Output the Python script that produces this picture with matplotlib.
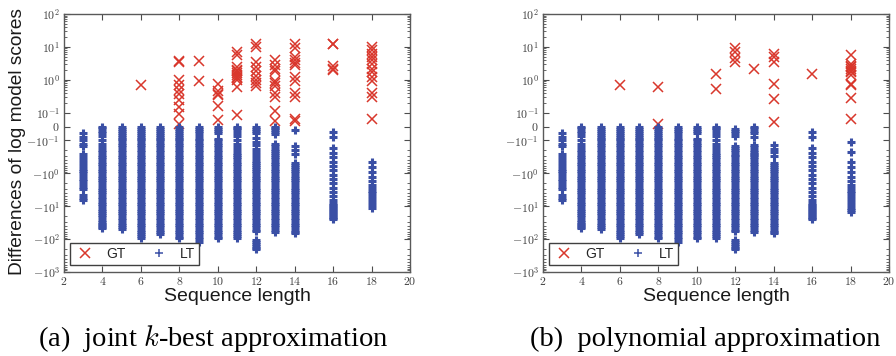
import numpy as np
import matplotlib
matplotlib.use('Agg')
import matplotlib.pyplot as plt
from matplotlib.ticker import FixedLocator, SymmetricalLogLocator, NullFormatter

plt.rcParams['mathtext.fontset'] = 'cm'
plt.rcParams['font.family'] = ['Liberation Sans', 'DejaVu Sans']

# ticks
xticks = [2, 4, 6, 8, 10, 12, 14, 16, 18, 20]
xtick_labels = ['$2$', '$4$', '$6$', '$8$', '$10$', '$12$', '$14$', '$16$', '$18$', '$20$']
yticks = [-1000, -100, -10, -1, -0.1, 0, 0.1, 1, 10, 100]
ytick_labels = [r'$-10^{3}$', r'$-10^{2}$', r'$-10^{1}$', r'$-10^{0}$', r'$-10^{-1}$',
                r'$0$', r'$10^{-1}$', r'$10^{0}$', r'$10^{1}$', r'$10^{2}$']

# GT: positive differences, read per sequence length
gt_a = {
    6: [0.67],
    8: [3.5, 3.7, 1.0, 0.7, 0.5, 0.38, 0.25, 0.15, 0.09, 0.02],
    9: [3.7, 0.95],
    10: [0.75, 0.45, 0.38, 0.35, 0.16, 0.05],
    11: [7, 5.5, 2.5, 2.0, 1.8, 1.6, 1.4, 1.2, 1.1, 1.0, 0.6, 0.08],
    12: [12, 10, 3.5, 2.5, 1.8, 1.3, 1.0, 0.8, 0.65],
    13: [4, 2.8, 2.2, 1.8, 0.95, 0.8, 0.65, 0.4, 0.3, 0.11, 0.04],
    14: [12, 9, 5, 4, 3.3, 2.8, 1.2, 0.95, 0.4, 0.3, 0.055, 0.04],
    16: [12.5, 12, 2.6, 2.2, 2.0],
    18: [10, 8, 6, 5, 4, 3, 2.2, 1.7, 1.2, 0.95, 0.4, 0.3, 0.055],
}
gt_b = {
    6: [0.67],
    8: [0.62, 0.019],
    11: [1.45, 0.53],
    12: [9.5, 7, 4.5, 3.4],
    13: [2.1],
    14: [6.2, 4.8, 3.4, 0.72, 0.26, 0.036],
    16: [1.5],
    18: [5.8, 3.1, 2.7, 2.4, 2.2, 1.9, 1.7, 1.35, 0.75, 0.67, 0.28, 0.055],
}

# LT: negative differences, magnitudes listed (plotted as negatives)
lt_common = {
    3: [.05, .075, .1, .13, .15, .26, .32, .4, .5, .6, .72, .85, 1, 1.2, 1.45, 1.75, 2.1,
        2.6, 3.1, 4.6, 5.5, 6.5],
    4: [0, .012, .03, .05, .07, .1, .13, .16, .19, .23, .27, .32, .37, .44,
        .52, .61, .72, .85, 1, 1.2, 1.4, 1.6, 1.9, 2.3, 2.7, 3.2, 3.7, 4.4, 5.2, 6.1, 7.2,
        8.5, 10, 12, 14, 16, 19, 21, 27, 30, 34, 38, 42, 47],
    5: [0, .015, .03, .045, .06, .075, .09, .1, .12, .14, .16, .19, .23, .27, .32, .37, .44,
        .52, .61, .72, .85, 1, 1.2, 1.4, 1.6, 1.9, 2.3, 2.7, 3.2, 3.7, 4.4, 5.2, 6.1, 7.2,
        8.5, 10, 12, 14, 16, 19, 23, 27, 32, 37, 44, 50],
    6: [0, .015, .03, .045, .06, .075, .09, .1, .12, .14, .16, .19, .23, .27, .32, .37, .44,
        .52, .61, .72, .85, 1, 1.2, 1.4, 1.6, 1.9, 2.3, 2.7, 3.2, 3.7, 4.4, 5.2, 6.1, 7.2,
        8.5, 10, 12, 14, 16, 19, 23, 27, 32, 37, 44, 52, 61, 70, 80, 90],
    7: [0, .015, .03, .045, .06, .075, .09, .1, .12, .14, .16, .19, .23, .27, .32, .37, .44,
        .52, .61, .72, .85, 1, 1.2, 1.4, 1.6, 1.9, 2.3, 2.7, 3.2, 3.7, 4.4, 5.2, 6.1, 7.2,
        8.5, 10, 12, 14, 16, 19, 23, 27, 32, 37, 44, 52, 61, 70],
    8: [0, .015, .03, .045, .06, .075, .09, .1, .12, .14, .16, .19, .23, .27, .32, .37, .44,
        .52, .61, .72, .85, 1, 1.2, 1.4, 1.6, 1.9, 2.3, 2.7, 3.2, 3.7, 4.4, 5.2, 6.1, 7.2,
        8.5, 10, 12, 14, 16, 19, 23, 27, 32, 37, 44, 52, 61, 72, 85, 95],
    9: [0, .015, .03, .05, .07, .09, .1, .12, .14, .16, .19, .23, .27, .32, .37, .44,
        .52, .61, .72, .85, 1, 1.2, 1.4, 1.6, 1.9, 2.3, 2.7, 3.2, 3.7, 4.4, 5.2, 6.1, 7.2,
        8.5, 10, 12, 14, 16, 19, 23, 27, 32, 37, 44, 52, 61, 72, 85, 100, 120],
    10: [0, .015, .03, .045, .09, .1, .12, .14, .16, .19, .23, .27, .32, .37, .44,
         .52, .61, .72, .85, 1, 1.2, 1.4, 1.6, 1.9, 2.3, 2.7, 3.2, 3.7, 4.4, 5.2, 6.1, 7.2,
         8.5, 10, 12, 14, 16, 19, 23, 27, 32, 37, 44, 52, 61, 72, 85, 95],
    11: [0, .01, .025, .05, .07, .1, .13, .16, .2, .24, .28, .32, .37, .44,
         .52, .61, .72, .85, 1, 1.2, 1.4, 1.6, 1.9, 2.3, 2.7, 3.2, 3.7, 4.4, 5.2, 6.1, 7.2,
         8.5, 10, 12, 14, 16, 19, 23, 27, 32, 37, 44, 52, 61, 72, 80, 90],
    16: [.04, .075, .17, .24, .33, .45, .6, .8, 1.1, 1.5, 2, 2.7, 3.6, 4.8, 6.5,
         8, 9, 10, 11, 12, 13.5, 15, 17, 19, 21, 23, 25],
}
lt_a = dict(lt_common)
lt_a[12] = [.005, .015, .03, .05, .08, .11, .14, .18, .23, .28, .34, .42, .5, .56, .63,
            .72, .85, 1, 1.2, 1.4, 1.6, 1.9, 2.3, 2.7, 3.2, 3.7, 4.4, 5.2, 6.1, 7.2, 8.5,
            10, 12, 14, 16, 19, 23, 27, 32, 37, 44, 52, 57, 110, 125, 140, 160, 180, 200]
lt_a[13] = [0, .012, .025, .04, .055, .13, .15, .18, .21, .24, .27, .32, .37, .44, .52, .61,
            .72, .85, 1, 1.2, 1.4, 1.6, 1.9, 2.3, 2.7, 3.2, 3.7, 4.4, 5.2, 6.1, 7.2, 8.5,
            10, 12, 14, 16, 19, 23, 27, 32, 37, 44, 52, 61]
lt_a[14] = [.024, .15, .2, .25, .5, .56, .63, .72, .85, 1, 1.2, 1.4, 1.6, 1.9, 2.3,
            2.7, 3.2, 3.7, 4.4, 5.2, 6.1, 7.2, 8.5, 10, 12, 14, 16, 19, 23, 27, 32, 37, 44,
            52, 61, 66]
lt_a[18] = [.45, .65, .9, 1.25, 1.7, 2.3, 2.8, 3.4, 4.1, 5, 6, 7.3, 9, 11.5]
lt_b = dict(lt_common)
lt_b[12] = [.015, .03, .05, .07, .15, .17, .2, .23, .27, .3, .37, .44, .52, .61, .72, .85,
            1, 1.2, 1.4, 1.6, 1.9, 2.3, 2.7, 3.2, 3.7, 4.4, 5.2, 6.1, 7.2, 8.5,
            10, 12, 14, 16, 19, 23, 27, 32, 37, 44, 52, 57, 110, 125, 140, 160, 180, 200]
lt_b[13] = [0, .012, .03, .05, .075, .14, .16, .19, .22, .25, .28, .32, .37, .44, .52, .61,
            .72, .85, 1, 1.2, 1.4, 1.6, 1.9, 2.3, 2.7, 3.2, 3.7, 4.4, 5.2, 6.1, 7.2, 8.5,
            10, 12, 14, 16, 19, 23, 27, 32, 37, 44, 52, 61]
lt_b[14] = [.14, .18, .23, .3, .5, .56, .63, .72, .85, 1, 1.2, 1.4, 1.6, 1.9, 2.3,
            2.7, 3.2, 3.7, 4.4, 5.2, 6.1, 7.2, 8.5, 10, 12, 14, 16, 19, 23, 27, 32, 37, 44,
            52, 61, 66]
lt_b[18] = [.11, .22, .45, .65, .9, 1.25, 1.7, 2.3, 2.8, 3.4, 4.1, 5, 6, 7.3, 9, 11, 13, 15]

captions = ['(a)  joint $k$-best approximation', '(b)  polynomial approximation']

red = '#d9372c'
blue = '#3a4fa5'


def flat(d, sign=1):
    xs, ys = [], []
    for k, v in d.items():
        xs += [k] * len(v)
        ys += [sign * y for y in v]
    return np.array(xs), np.array(ys)


fig = plt.figure(figsize=(8.96, 3.56), dpi=100)
ax_a = fig.add_axes([64 / 896, 1 - 272 / 356, 346 / 896, 258 / 356])
ax_b = fig.add_axes([543 / 896, 1 - 272 / 356, 346 / 896, 258 / 356])

for ax, gt, lt, cap, cx in [(ax_a, gt_a, lt_a, captions[0], 213 / 896),
                            (ax_b, gt_b, lt_b, captions[1], 705 / 896)]:
    gx, gy = flat(gt)
    lx, ly = flat(lt, -1)
    ax.plot(gx, gy, 'x', color=red, ms=6.5, mew=1.1, label='GT', zorder=2)
    ax.plot(lx, ly, '+', color=blue, ms=6.0, mew=2.2, label='LT', zorder=3)

    ax.set_yscale('symlog', linthresh=0.1, linscale=0.38)
    ax.set_ylim(-1000, 100)
    ax.set_xlim(2, 20)
    ax.yaxis.set_major_locator(FixedLocator(yticks))
    ax.set_yticklabels(ytick_labels)
    ax.yaxis.set_minor_locator(SymmetricalLogLocator(linthresh=0.1, base=10,
                                                     subs=np.arange(2, 10)))
    ax.yaxis.set_minor_formatter(NullFormatter())
    ax.set_xticks(xticks)
    ax.set_xticklabels(xtick_labels)
    ax.tick_params(which='both', direction='in', top=True, right=True,
                   labelsize=8.5, color='0.3', labelcolor='0.25', pad=3)
    ax.tick_params(which='major', length=4, width=0.8)
    ax.tick_params(which='minor', length=2, width=0.6)
    for s in ax.spines.values():
        s.set_color('0.35')
        s.set_linewidth(1.0)

    ax.text(0.5, -0.095, 'Sequence length', transform=ax.transAxes, ha='center',
            va='center', fontsize=14, color='0.1')

    leg = ax.legend(loc='lower left', bbox_to_anchor=(0.017, 0.027), borderaxespad=0,
                    ncol=2, fancybox=False, edgecolor='0.25', framealpha=1,
                    fontsize=10, columnspacing=1.6, handletextpad=0.7,
                    handlelength=1.6, borderpad=0.3, labelcolor='0.15')
    leg.get_frame().set_linewidth(1.0)
    for h in leg.legend_handles:
        h.set_markeredgewidth(1.1)

    fig.text(cx, 0.028, cap, ha='center', va='baseline', fontsize=20.5,
             fontfamily='Liberation Serif', color='black')

fig.text(17.5 / 896, 0.6025, 'Differences of log model scores', rotation=90,
         ha='center', va='center', fontsize=13.8, color='0.1')

fig.savefig('out.png', dpi=100)
